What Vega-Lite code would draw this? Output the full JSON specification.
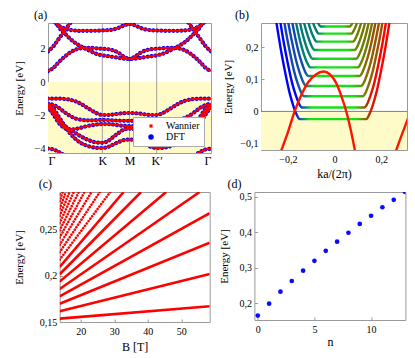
{
  "$schema": "https://vega.github.io/schema/vega-lite/v6.json",
  "padding": {"left": 0, "top": 8, "right": 4, "bottom": 2},
  "config": {
    "view": {"stroke": "#9a9a9a", "strokeWidth": 1},
    "font": "Liberation Serif",
    "axis": {"labelFont": "Liberation Serif", "titleFont": "Liberation Serif", "labelFontSize": 10, "titleFontSize": 11, "titleFontWeight": "normal", "labelColor": "#000000", "titleColor": "#000000", "grid": false, "domain": false, "tickColor": "#999999", "tickSize": -3, "labelPadding": 6, "labelFlush": false, "labelOverlap": false},
    "title": {"font": "Liberation Serif", "fontSize": 12, "fontWeight": "normal", "anchor": "start", "frame": "group", "offset": 1, "color": "#000000"}
  },
  "datasets": {
    "shadeA": [{"e": 0, "e2": -4.26}],
    "shadeB": [{"e": 0, "e2": -0.12}],
    "vlines": [{"k": 1}, {"k": 1.5}, {"k": 2}],
    "empty": [],
    "bands": [
      {"b":"L","k":0,"e":0.66},{"b":"L","k":0.1,"e":0.85},{"b":"L","k":0.2,"e":1.2},{"b":"L","k":0.3,"e":1.5},{"b":"L","k":0.4,"e":1.75},{"b":"L","k":0.5,"e":1.93},{"b":"L","k":0.6,"e":2.02},{"b":"L","k":0.7,"e":2.05},{"b":"L","k":0.8,"e":2.05},{"b":"L","k":0.9,"e":2.02},{"b":"L","k":1,"e":2},{"b":"L","k":1.1,"e":1.97},{"b":"L","k":1.2,"e":1.9},{"b":"L","k":1.3,"e":1.75},{"b":"L","k":1.4,"e":1.52},{"b":"L","k":1.5,"e":1.38},{"b":"L","k":1.6,"e":1.52},{"b":"L","k":1.7,"e":1.75},{"b":"L","k":1.8,"e":1.9},{"b":"L","k":1.9,"e":1.97},{"b":"L","k":2,"e":2},{"b":"L","k":2.1,"e":2.02},{"b":"L","k":2.2,"e":2.05},{"b":"L","k":2.3,"e":2.05},{"b":"L","k":2.4,"e":2.02},{"b":"L","k":2.5,"e":1.93},{"b":"L","k":2.6,"e":1.75},{"b":"L","k":2.7,"e":1.5},{"b":"L","k":2.8,"e":1.2},{"b":"L","k":2.9,"e":0.85},{"b":"L","k":3,"e":0.66},
      {"b":"D","k":0.15,"e":3.6},{"b":"D","k":0.2,"e":3.3},{"b":"D","k":0.3,"e":2.95},{"b":"D","k":0.4,"e":2.62},{"b":"D","k":0.5,"e":2.35},{"b":"D","k":0.6,"e":2.15},{"b":"D","k":0.7,"e":1.98},{"b":"D","k":0.8,"e":1.82},{"b":"D","k":0.9,"e":1.68},{"b":"D","k":1,"e":1.6},{"b":"D","k":1.1,"e":1.55},{"b":"D","k":1.2,"e":1.5},{"b":"D","k":1.3,"e":1.45},{"b":"D","k":1.4,"e":1.4},{"b":"D","k":1.5,"e":1.38},{"b":"D","k":1.6,"e":1.4},{"b":"D","k":1.7,"e":1.45},{"b":"D","k":1.8,"e":1.5},{"b":"D","k":1.9,"e":1.55},{"b":"D","k":2,"e":1.6},{"b":"D","k":2.1,"e":1.68},{"b":"D","k":2.2,"e":1.82},{"b":"D","k":2.3,"e":1.98},{"b":"D","k":2.4,"e":2.15},{"b":"D","k":2.5,"e":2.35},{"b":"D","k":2.6,"e":2.62},{"b":"D","k":2.7,"e":2.95},{"b":"D","k":2.8,"e":3.3},{"b":"D","k":2.85,"e":3.6},
      {"b":"S","k":0,"e":1.84},{"b":"S","k":0.1,"e":2.15},{"b":"S","k":0.2,"e":2.6},{"b":"S","k":0.3,"e":3.05},{"b":"S","k":0.4,"e":3.5},{"b":"S","k":0.45,"e":3.75},
      {"b":"S2","k":2.55,"e":3.75},{"b":"S2","k":2.6,"e":3.5},{"b":"S2","k":2.7,"e":3.05},{"b":"S2","k":2.8,"e":2.6},{"b":"S2","k":2.9,"e":2.15},{"b":"S2","k":3,"e":1.84},
      {"b":"T","k":0.1,"e":3.65},{"b":"T","k":0.2,"e":3.38},{"b":"T","k":0.3,"e":3.22},{"b":"T","k":0.4,"e":3.13},{"b":"T","k":0.5,"e":3.09},{"b":"T","k":0.6,"e":3.07},{"b":"T","k":0.7,"e":3.07},{"b":"T","k":0.8,"e":3.07},{"b":"T","k":0.9,"e":3.08},{"b":"T","k":1,"e":3.09},{"b":"T","k":1.1,"e":3.11},{"b":"T","k":1.2,"e":3.15},{"b":"T","k":1.3,"e":3.25},{"b":"T","k":1.4,"e":3.4},{"b":"T","k":1.5,"e":3.47},{"b":"T","k":1.6,"e":3.4},{"b":"T","k":1.7,"e":3.25},{"b":"T","k":1.8,"e":3.15},{"b":"T","k":1.9,"e":3.11},{"b":"T","k":2,"e":3.09},{"b":"T","k":2.1,"e":3.08},{"b":"T","k":2.2,"e":3.07},{"b":"T","k":2.3,"e":3.07},{"b":"T","k":2.4,"e":3.07},{"b":"T","k":2.5,"e":3.09},{"b":"T","k":2.6,"e":3.13},{"b":"T","k":2.7,"e":3.22},{"b":"T","k":2.8,"e":3.38},{"b":"T","k":2.9,"e":3.65},
      {"b":"V1","k":0,"e":-1},{"b":"V1","k":0.1,"e":-1},{"b":"V1","k":0.2,"e":-1},{"b":"V1","k":0.3,"e":-1.02},{"b":"V1","k":0.4,"e":-1.06},{"b":"V1","k":0.5,"e":-1.15},{"b":"V1","k":0.6,"e":-1.3},{"b":"V1","k":0.7,"e":-1.5},{"b":"V1","k":0.8,"e":-1.7},{"b":"V1","k":0.9,"e":-1.88},{"b":"V1","k":1,"e":-1.98},{"b":"V1","k":1.1,"e":-1.98},{"b":"V1","k":1.2,"e":-1.95},{"b":"V1","k":1.3,"e":-1.9},{"b":"V1","k":1.4,"e":-1.87},{"b":"V1","k":1.5,"e":-1.86},{"b":"V1","k":1.6,"e":-1.87},{"b":"V1","k":1.7,"e":-1.9},{"b":"V1","k":1.8,"e":-1.95},{"b":"V1","k":1.9,"e":-1.98},{"b":"V1","k":2,"e":-1.98},{"b":"V1","k":2.1,"e":-1.88},{"b":"V1","k":2.2,"e":-1.7},{"b":"V1","k":2.3,"e":-1.5},{"b":"V1","k":2.4,"e":-1.3},{"b":"V1","k":2.5,"e":-1.15},{"b":"V1","k":2.6,"e":-1.06},{"b":"V1","k":2.7,"e":-1.02},{"b":"V1","k":2.8,"e":-1},{"b":"V1","k":2.9,"e":-1},{"b":"V1","k":3,"e":-1},
      {"b":"V2","k":0,"e":-1.3},{"b":"V2","k":0.1,"e":-1.38},{"b":"V2","k":0.2,"e":-1.55},{"b":"V2","k":0.3,"e":-1.8},{"b":"V2","k":0.4,"e":-2.02},{"b":"V2","k":0.5,"e":-2.18},{"b":"V2","k":0.6,"e":-2.26},{"b":"V2","k":0.7,"e":-2.3},{"b":"V2","k":0.8,"e":-2.3},{"b":"V2","k":0.9,"e":-2.28},{"b":"V2","k":1,"e":-2.27},{"b":"V2","k":1.1,"e":-2.28},{"b":"V2","k":1.2,"e":-2.3},{"b":"V2","k":1.3,"e":-2.32},{"b":"V2","k":1.4,"e":-2.33},{"b":"V2","k":1.5,"e":-2.33},{"b":"V2","k":1.6,"e":-2.33},{"b":"V2","k":1.7,"e":-2.32},{"b":"V2","k":1.8,"e":-2.3},{"b":"V2","k":1.9,"e":-2.28},{"b":"V2","k":2,"e":-2.27},{"b":"V2","k":2.1,"e":-2.28},{"b":"V2","k":2.2,"e":-2.3},{"b":"V2","k":2.3,"e":-2.3},{"b":"V2","k":2.4,"e":-2.26},{"b":"V2","k":2.5,"e":-2.18},{"b":"V2","k":2.6,"e":-2.02},{"b":"V2","k":2.7,"e":-1.8},{"b":"V2","k":2.8,"e":-1.55},{"b":"V2","k":2.9,"e":-1.38},{"b":"V2","k":3,"e":-1.3},
      {"b":"V3","k":0,"e":-1.35},{"b":"V3","k":0.1,"e":-1.6},{"b":"V3","k":0.2,"e":-2.1},{"b":"V3","k":0.3,"e":-2.6},{"b":"V3","k":0.4,"e":-3.05},{"b":"V3","k":0.5,"e":-3.4},{"b":"V3","k":0.6,"e":-3.65},{"b":"V3","k":0.7,"e":-3.8},{"b":"V3","k":0.8,"e":-3.9},{"b":"V3","k":0.9,"e":-3.95},{"b":"V3","k":1,"e":-3.96},{"b":"V3","k":1.1,"e":-3.9},{"b":"V3","k":1.2,"e":-3.75},{"b":"V3","k":1.3,"e":-3.6},{"b":"V3","k":1.4,"e":-3.48},{"b":"V3","k":1.5,"e":-3.45},{"b":"V3","k":1.6,"e":-3.48},{"b":"V3","k":1.7,"e":-3.6},{"b":"V3","k":1.8,"e":-3.75},{"b":"V3","k":1.9,"e":-3.9},{"b":"V3","k":2,"e":-3.96},{"b":"V3","k":2.1,"e":-3.95},{"b":"V3","k":2.2,"e":-3.9},{"b":"V3","k":2.3,"e":-3.8},{"b":"V3","k":2.4,"e":-3.65},{"b":"V3","k":2.5,"e":-3.4},{"b":"V3","k":2.6,"e":-3.05},{"b":"V3","k":2.7,"e":-2.6},{"b":"V3","k":2.8,"e":-2.1},{"b":"V3","k":2.9,"e":-1.6},{"b":"V3","k":3,"e":-1.35},
      {"b":"V4","k":0,"e":-1.4},{"b":"V4","k":0.1,"e":-1.75},{"b":"V4","k":0.2,"e":-2.25},{"b":"V4","k":0.3,"e":-2.6},{"b":"V4","k":0.4,"e":-2.85},{"b":"V4","k":0.5,"e":-3.05},{"b":"V4","k":0.6,"e":-3.25},{"b":"V4","k":0.7,"e":-3.42},{"b":"V4","k":0.8,"e":-3.55},{"b":"V4","k":0.9,"e":-3.63},{"b":"V4","k":1,"e":-3.65},{"b":"V4","k":1.1,"e":-3.55},{"b":"V4","k":1.2,"e":-3.3},{"b":"V4","k":1.3,"e":-3.05},{"b":"V4","k":1.4,"e":-2.85},{"b":"V4","k":1.5,"e":-2.8},{"b":"V4","k":1.6,"e":-2.85},{"b":"V4","k":1.7,"e":-3.05},{"b":"V4","k":1.8,"e":-3.3},{"b":"V4","k":1.9,"e":-3.55},{"b":"V4","k":2,"e":-3.65},{"b":"V4","k":2.1,"e":-3.63},{"b":"V4","k":2.2,"e":-3.55},{"b":"V4","k":2.3,"e":-3.42},{"b":"V4","k":2.4,"e":-3.25},{"b":"V4","k":2.5,"e":-3.05},{"b":"V4","k":2.6,"e":-2.85},{"b":"V4","k":2.7,"e":-2.6},{"b":"V4","k":2.8,"e":-2.25},{"b":"V4","k":2.9,"e":-1.75},{"b":"V4","k":3,"e":-1.4},
      {"b":"V5","k":0,"e":-1.5},{"b":"V5","k":0.1,"e":-1.95},{"b":"V5","k":0.2,"e":-2.45},{"b":"V5","k":0.3,"e":-2.75},{"b":"V5","k":0.4,"e":-2.85},{"b":"V5","k":0.5,"e":-2.82},{"b":"V5","k":0.6,"e":-2.75},{"b":"V5","k":0.7,"e":-2.66},{"b":"V5","k":0.8,"e":-2.6},{"b":"V5","k":0.9,"e":-2.55},{"b":"V5","k":1,"e":-2.52},{"b":"V5","k":1.1,"e":-2.52},{"b":"V5","k":1.2,"e":-2.55},{"b":"V5","k":1.3,"e":-2.6},{"b":"V5","k":1.4,"e":-2.63},{"b":"V5","k":1.5,"e":-2.65},{"b":"V5","k":1.6,"e":-2.63},{"b":"V5","k":1.7,"e":-2.6},{"b":"V5","k":1.8,"e":-2.55},{"b":"V5","k":1.9,"e":-2.52},{"b":"V5","k":2,"e":-2.52},{"b":"V5","k":2.1,"e":-2.55},{"b":"V5","k":2.2,"e":-2.6},{"b":"V5","k":2.3,"e":-2.66},{"b":"V5","k":2.4,"e":-2.75},{"b":"V5","k":2.5,"e":-2.82},{"b":"V5","k":2.6,"e":-2.85},{"b":"V5","k":2.7,"e":-2.75},{"b":"V5","k":2.8,"e":-2.45},{"b":"V5","k":2.9,"e":-1.95},{"b":"V5","k":3,"e":-1.5},
      {"b":"V6","k":0,"e":-4},{"b":"V6","k":0.1,"e":-4.05},{"b":"V6","k":0.2,"e":-4.2},{"b":"V6","k":0.3,"e":-4.4},
      {"b":"V6b","k":2.7,"e":-4.4},{"b":"V6b","k":2.8,"e":-4.2},{"b":"V6b","k":2.9,"e":-4.05},{"b":"V6b","k":3,"e":-4}
    ],
    "ulev": [
      {"u":0,"k":-0.254,"e":0.3},{"u":0,"k":-0.226,"e":0.176},{"u":0,"k":-0.21,"e":0.116},{"u":0,"k":-0.192,"e":0.056},{"u":0,"k":-0.176,"e":0.016},{"u":0,"k":-0.163,"e":-0.009},{"u":0,"k":-0.155,"e":-0.02},{"u":0,"k":-0.149,"e":-0.024},{"u":0,"k":0.135,"e":-0.024},{"u":0,"k":0.141,"e":-0.02},{"u":0,"k":0.149,"e":-0.009},{"u":0,"k":0.162,"e":0.016},{"u":0,"k":0.178,"e":0.056},{"u":0,"k":0.196,"e":0.116},{"u":0,"k":0.212,"e":0.176},{"u":0,"k":0.24,"e":0.3},
      {"u":1,"k":-0.237,"e":0.3},{"u":1,"k":-0.217,"e":0.212},{"u":1,"k":-0.201,"e":0.152},{"u":1,"k":-0.183,"e":0.092},{"u":1,"k":-0.167,"e":0.052},{"u":1,"k":-0.154,"e":0.027},{"u":1,"k":-0.146,"e":0.016},{"u":1,"k":-0.14,"e":0.012},{"u":1,"k":0.128,"e":0.012},{"u":1,"k":0.134,"e":0.016},{"u":1,"k":0.142,"e":0.027},{"u":1,"k":0.155,"e":0.052},{"u":1,"k":0.171,"e":0.092},{"u":1,"k":0.189,"e":0.152},{"u":1,"k":0.205,"e":0.212},{"u":1,"k":0.225,"e":0.3},
      {"u":2,"k":-0.22,"e":0.3},{"u":2,"k":-0.208,"e":0.247},{"u":2,"k":-0.192,"e":0.187},{"u":2,"k":-0.174,"e":0.127},{"u":2,"k":-0.158,"e":0.087},{"u":2,"k":-0.145,"e":0.062},{"u":2,"k":-0.137,"e":0.051},{"u":2,"k":-0.131,"e":0.047},{"u":2,"k":0.121,"e":0.047},{"u":2,"k":0.127,"e":0.051},{"u":2,"k":0.135,"e":0.062},{"u":2,"k":0.148,"e":0.087},{"u":2,"k":0.164,"e":0.127},{"u":2,"k":0.182,"e":0.187},{"u":2,"k":0.198,"e":0.247},{"u":2,"k":0.21,"e":0.3},
      {"u":3,"k":-0.204,"e":0.3},{"u":3,"k":-0.199,"e":0.279},{"u":3,"k":-0.183,"e":0.219},{"u":3,"k":-0.165,"e":0.159},{"u":3,"k":-0.149,"e":0.119},{"u":3,"k":-0.136,"e":0.094},{"u":3,"k":-0.128,"e":0.083},{"u":3,"k":-0.122,"e":0.079},{"u":3,"k":0.114,"e":0.079},{"u":3,"k":0.12,"e":0.083},{"u":3,"k":0.128,"e":0.094},{"u":3,"k":0.141,"e":0.119},{"u":3,"k":0.157,"e":0.159},{"u":3,"k":0.175,"e":0.219},{"u":3,"k":0.191,"e":0.279},{"u":3,"k":0.196,"e":0.3},
      {"u":4,"k":-0.187,"e":0.3},{"u":4,"k":-0.174,"e":0.25},{"u":4,"k":-0.156,"e":0.19},{"u":4,"k":-0.14,"e":0.15},{"u":4,"k":-0.127,"e":0.125},{"u":4,"k":-0.119,"e":0.114},{"u":4,"k":-0.113,"e":0.11},{"u":4,"k":0.107,"e":0.11},{"u":4,"k":0.113,"e":0.114},{"u":4,"k":0.121,"e":0.125},{"u":4,"k":0.134,"e":0.15},{"u":4,"k":0.15,"e":0.19},{"u":4,"k":0.168,"e":0.25},{"u":4,"k":0.181,"e":0.3},
      {"u":5,"k":-0.171,"e":0.3},{"u":5,"k":-0.165,"e":0.277},{"u":5,"k":-0.147,"e":0.217},{"u":5,"k":-0.131,"e":0.177},{"u":5,"k":-0.118,"e":0.152},{"u":5,"k":-0.11,"e":0.141},{"u":5,"k":-0.104,"e":0.137},{"u":5,"k":0.1,"e":0.137},{"u":5,"k":0.106,"e":0.141},{"u":5,"k":0.114,"e":0.152},{"u":5,"k":0.127,"e":0.177},{"u":5,"k":0.143,"e":0.217},{"u":5,"k":0.161,"e":0.277},{"u":5,"k":0.167,"e":0.3},
      {"u":6,"k":-0.155,"e":0.3},{"u":6,"k":-0.138,"e":0.244},{"u":6,"k":-0.122,"e":0.204},{"u":6,"k":-0.109,"e":0.179},{"u":6,"k":-0.101,"e":0.168},{"u":6,"k":-0.095,"e":0.164},{"u":6,"k":0.093,"e":0.164},{"u":6,"k":0.099,"e":0.168},{"u":6,"k":0.107,"e":0.179},{"u":6,"k":0.12,"e":0.204},{"u":6,"k":0.136,"e":0.244},{"u":6,"k":0.153,"e":0.3},
      {"u":7,"k":-0.138,"e":0.3},{"u":7,"k":-0.129,"e":0.271},{"u":7,"k":-0.113,"e":0.231},{"u":7,"k":-0.1,"e":0.206},{"u":7,"k":-0.092,"e":0.195},{"u":7,"k":-0.086,"e":0.191},{"u":7,"k":0.086,"e":0.191},{"u":7,"k":0.092,"e":0.195},{"u":7,"k":0.1,"e":0.206},{"u":7,"k":0.113,"e":0.231},{"u":7,"k":0.129,"e":0.271},{"u":7,"k":0.138,"e":0.3},
      {"u":8,"k":-0.121,"e":0.3},{"u":8,"k":-0.104,"e":0.257},{"u":8,"k":-0.091,"e":0.232},{"u":8,"k":-0.083,"e":0.221},{"u":8,"k":-0.077,"e":0.217},{"u":8,"k":0.079,"e":0.217},{"u":8,"k":0.085,"e":0.221},{"u":8,"k":0.093,"e":0.232},{"u":8,"k":0.106,"e":0.257},{"u":8,"k":0.123,"e":0.3},
      {"u":9,"k":-0.102,"e":0.3},{"u":9,"k":-0.095,"e":0.282},{"u":9,"k":-0.082,"e":0.257},{"u":9,"k":-0.074,"e":0.246},{"u":9,"k":-0.068,"e":0.242},{"u":9,"k":0.072,"e":0.242},{"u":9,"k":0.078,"e":0.246},{"u":9,"k":0.086,"e":0.257},{"u":9,"k":0.099,"e":0.282},{"u":9,"k":0.106,"e":0.3},
      {"u":10,"k":-0.084,"e":0.3},{"u":10,"k":-0.073,"e":0.279},{"u":10,"k":-0.065,"e":0.268},{"u":10,"k":-0.059,"e":0.264},{"u":10,"k":0.065,"e":0.264},{"u":10,"k":0.071,"e":0.268},{"u":10,"k":0.079,"e":0.279},{"u":10,"k":0.09,"e":0.3}
    ],
    "para": [
      {"p":"P1","k":-0.23,"e":-0.125},{"p":"P1","k":-0.2,"e":-0.065},{"p":"P1","k":-0.171,"e":0},{"p":"P1","k":-0.143,"e":0.05},{"p":"P1","k":-0.114,"e":0.09},{"p":"P1","k":-0.08,"e":0.115},{"p":"P1","k":-0.047,"e":0.124},{"p":"P1","k":-0.02,"e":0.115},{"p":"P1","k":0.007,"e":0.088},{"p":"P1","k":0.028,"e":0.05},{"p":"P1","k":0.05,"e":0},{"p":"P1","k":0.07,"e":-0.06},{"p":"P1","k":0.088,"e":-0.125},
      {"p":"P2","k":0.262,"e":-0.125},{"p":"P2","k":0.28,"e":-0.088},{"p":"P2","k":0.297,"e":-0.055},{"p":"P2","k":0.315,"e":-0.02}
    ],
    "fan": [
      {"n":0,"B":13.7,"E":0.1537},{"n":0,"B":58.5,"E":0.167},
      {"n":1,"B":13.7,"E":0.1617},{"n":1,"B":58.5,"E":0.202},
      {"n":2,"B":13.7,"E":0.1698},{"n":2,"B":58.5,"E":0.236},
      {"n":3,"B":13.7,"E":0.1778},{"n":3,"B":58.5,"E":0.268},
      {"n":4,"B":13.7,"E":0.1858},{"n":4,"B":55.5,"E":0.291},
      {"n":5,"B":13.7,"E":0.1938},{"n":5,"B":45.5,"E":0.291},
      {"n":6,"B":13.7,"E":0.2018},{"n":6,"B":38,"E":0.291},
      {"n":7,"B":13.7,"E":0.2098},{"n":7,"B":32.8,"E":0.291},
      {"n":8,"B":13.7,"E":0.2177},{"n":8,"B":28.8,"E":0.291},
      {"n":9,"B":13.7,"E":0.2257},{"n":9,"B":25.7,"E":0.291},
      {"n":10,"B":13.7,"E":0.2336},{"n":10,"B":23.2,"E":0.291},
      {"n":11,"B":13.7,"E":0.2415},{"n":11,"B":21.1,"E":0.291},
      {"n":12,"B":13.7,"E":0.2494},{"n":12,"B":19.4,"E":0.291},
      {"n":13,"B":13.7,"E":0.2573},{"n":13,"B":17.9,"E":0.291},
      {"n":14,"B":13.7,"E":0.2652},{"n":14,"B":16.65,"E":0.291},
      {"n":15,"B":13.7,"E":0.2731},{"n":15,"B":15.55,"E":0.291},
      {"n":16,"B":13.7,"E":0.281},{"n":16,"B":14.6,"E":0.291},
      {"n":17,"B":13.7,"E":0.2889},{"n":17,"B":13.8,"E":0.291}
    ],
    "pts": [
      {"n":0,"E":0.1655},{"n":1,"E":0.199},{"n":2,"E":0.233},{"n":3,"E":0.263},{"n":4,"E":0.292},{"n":5,"E":0.32},{"n":6,"E":0.348},{"n":7,"E":0.374},{"n":8,"E":0.399},{"n":9,"E":0.424},{"n":10,"E":0.447},{"n":11,"E":0.471},{"n":12,"E":0.492},{"n":13,"E":0.514}
    ]
  },
  "columns": 1,
  "align": "none",
  "spacing": -3,
  "resolve": {"scale": {"color": "independent"}, "legend": {"color": "independent"}},
  "concat": [
    {
      "spacing": 9,
      "resolve": {"scale": {"color": "independent"}, "legend": {"color": "independent"}},
      "hconcat": [
        {"width": 2.7, "height": 1, "view": {"stroke": null}, "data": {"name": "empty"}, "mark": "point"},
        {
          "width": 163, "height": 130,
          "title": {"text": "(a)", "dx": -14},
          "layer": [
            {
              "data": {"name": "shadeA"},
              "mark": {"type": "rect", "color": "#fffbc9"},
              "encoding": {
                "y": {"field": "e", "type": "quantitative", "scale": {"domain": [-4.26, 3.54], "nice": false, "zero": false}, "axis": {"values": [-4, -2, 0, 2], "title": "Energy [eV]", "minExtent": 14, "maxExtent": 14, "titlePadding": 10}},
                "y2": {"field": "e2"}
              }
            },
            {
              "data": {"name": "vlines"},
              "mark": {"type": "rule", "color": "#8c8c8c", "strokeWidth": 0.8},
              "encoding": {
                "x": {"field": "k", "type": "quantitative", "scale": {"domain": [0, 3], "nice": false, "zero": false}, "axis": {"values": [0, 1, 1.5, 2, 3], "labelExpr": "datum.value == 0 || datum.value == 3 ? 'Γ' : datum.value == 1 ? 'K' : datum.value == 1.5 ? 'M' : 'K′'", "ticks": false, "labelFontSize": 12, "labelPadding": 2, "labelFlush": true, "title": null}}
              }
            },
            {
              "data": {"name": "bands"},
              "mark": {"type": "line", "clip": true, "interpolate": "monotone", "strokeDash": [0.01, 4], "strokeCap": "round", "strokeWidth": 4.2},
              "encoding": {
                "x": {"field": "k", "type": "quantitative", "scale": {"domain": [0, 3], "nice": false, "zero": false}, "axis": {"values": [0, 1, 1.5, 2, 3], "labelExpr": "datum.value == 0 || datum.value == 3 ? 'Γ' : datum.value == 1 ? 'K' : datum.value == 1.5 ? 'M' : 'K′'", "ticks": false, "labelFontSize": 12, "labelPadding": 2, "labelFlush": true, "title": null}},
                "y": {"field": "e", "type": "quantitative", "scale": {"domain": [-4.26, 3.54], "nice": false, "zero": false}, "axis": {"values": [-4, -2, 0, 2], "title": "Energy [eV]", "minExtent": 14, "maxExtent": 14, "titlePadding": 10}},
                "detail": {"field": "b", "type": "nominal"},
                "color": {
                  "datum": "DFT", "type": "nominal",
                  "scale": {"domain": ["Wannier", "DFT"], "range": ["#ff0000", "#0000ff"]},
                  "legend": {
                    "title": null, "orient": "bottom-right", "offset": 7, "fillColor": "#ffffff", "strokeColor": "#aaaaaa", "padding": 4,
                    "labelFont": "Liberation Serif", "labelFontSize": 10, "labelOffset": 10, "symbolOffset": 9, "rowPadding": 1,
                    "encode": {"symbols": {"update": {
                      "shape": {"signal": "datum.value === 'DFT' ? 'circle' : 'square'"},
                      "size": {"signal": "datum.value === 'DFT' ? 30 : 10"},
                      "fill": {"signal": "datum.value === 'DFT' ? '#0000ff' : '#ff0000'"},
                      "fillOpacity": {"value": 1},
                      "strokeWidth": {"value": 0}
                    }}}
                  }
                }
              }
            },
            {
              "data": {"name": "bands"},
              "mark": {"type": "line", "clip": true, "interpolate": "monotone", "strokeWidth": 2},
              "encoding": {
                "x": {"field": "k", "type": "quantitative", "scale": {"domain": [0, 3], "nice": false, "zero": false}},
                "y": {"field": "e", "type": "quantitative", "scale": {"domain": [-4.26, 3.54], "nice": false, "zero": false}},
                "detail": {"field": "b", "type": "nominal"},
                "color": {"datum": "Wannier", "type": "nominal"}
              }
            }
          ]
        },
        {
          "width": 146, "height": 127,
          "title": {"text": "(b)", "dx": -26},
          "layer": [
            {
              "data": {"name": "shadeB"},
              "mark": {"type": "rect", "color": "#fffbc9"},
              "encoding": {
                "y": {"field": "e", "type": "quantitative", "scale": {"domain": [-0.12, 0.275], "nice": false, "zero": false}, "axis": {"values": [-0.1, 0, 0.1, 0.2], "labelExpr": "replace(format(datum.value, ''), '.', ',')", "title": "Energy [eV]", "minExtent": 21, "maxExtent": 21, "titlePadding": 7}},
                "y2": {"field": "e2"}
              }
            },
            {
              "data": {"name": "shadeB"},
              "mark": {"type": "rule", "color": "#808080", "strokeWidth": 1},
              "encoding": {
                "y": {"field": "e", "type": "quantitative", "scale": {"domain": [-0.12, 0.275], "nice": false, "zero": false}}
              }
            },
            {
              "data": {"name": "ulev"},
              "transform": [{"filter": "datum.u >= 5"}],
              "mark": {"type": "line", "clip": true, "interpolate": "monotone", "strokeWidth": 2.4,
                "color": {"gradient": "linear", "x1": 0, "x2": 1, "y1": 0, "y2": 0, "stops": [{"offset": 0, "color": "#007878"}, {"offset": 0.15, "color": "#008070"}, {"offset": 0.3, "color": "#18e018"}, {"offset": 0.7, "color": "#18e018"}, {"offset": 0.85, "color": "#6c8000"}, {"offset": 1, "color": "#787400"}]}},
              "encoding": {
                "x": {"field": "k", "type": "quantitative", "scale": {"domain": [-0.315, 0.31], "nice": false, "zero": false}, "axis": {"values": [-0.2, 0, 0.2], "labelExpr": "replace(format(datum.value, ''), '.', ',')", "title": "ka/(2π)", "titleFontSize": 12, "titlePadding": 3.5, "labelPadding": 7.5}},
                "y": {"field": "e", "type": "quantitative", "scale": {"domain": [-0.12, 0.275], "nice": false, "zero": false}},
                "detail": {"field": "u", "type": "nominal"}
              }
            },
            {
              "data": {"name": "ulev"},
              "transform": [{"filter": "datum.u >= 2 && datum.u <= 4"}],
              "mark": {"type": "line", "clip": true, "interpolate": "monotone", "strokeWidth": 2.4,
                "color": {"gradient": "linear", "x1": 0, "x2": 1, "y1": 0, "y2": 0, "stops": [{"offset": 0, "color": "#1040b8"}, {"offset": 0.16, "color": "#1050a8"}, {"offset": 0.3, "color": "#18e018"}, {"offset": 0.7, "color": "#18e018"}, {"offset": 0.84, "color": "#8c6a00"}, {"offset": 1, "color": "#a04800"}]}},
              "encoding": {
                "x": {"field": "k", "type": "quantitative", "scale": {"domain": [-0.315, 0.31], "nice": false, "zero": false}},
                "y": {"field": "e", "type": "quantitative", "scale": {"domain": [-0.12, 0.275], "nice": false, "zero": false}},
                "detail": {"field": "u", "type": "nominal"}
              }
            },
            {
              "data": {"name": "ulev"},
              "transform": [{"filter": "datum.u <= 1"}],
              "mark": {"type": "line", "clip": true, "interpolate": "monotone", "strokeWidth": 2.4,
                "color": {"gradient": "linear", "x1": 0, "x2": 1, "y1": 0, "y2": 0, "stops": [{"offset": 0, "color": "#0000ff"}, {"offset": 0.16, "color": "#0000ff"}, {"offset": 0.3, "color": "#18e018"}, {"offset": 0.7, "color": "#18e018"}, {"offset": 0.82, "color": "#c02800"}, {"offset": 0.9, "color": "#ff0000"}, {"offset": 1, "color": "#ff0000"}]}},
              "encoding": {
                "x": {"field": "k", "type": "quantitative", "scale": {"domain": [-0.315, 0.31], "nice": false, "zero": false}},
                "y": {"field": "e", "type": "quantitative", "scale": {"domain": [-0.12, 0.275], "nice": false, "zero": false}},
                "detail": {"field": "u", "type": "nominal"}
              }
            },
            {
              "data": {"name": "para"},
              "mark": {"type": "line", "clip": true, "interpolate": "monotone", "strokeWidth": 2.4, "color": "#ff1400"},
              "encoding": {
                "x": {"field": "k", "type": "quantitative", "scale": {"domain": [-0.315, 0.31], "nice": false, "zero": false}},
                "y": {"field": "e", "type": "quantitative", "scale": {"domain": [-0.12, 0.275], "nice": false, "zero": false}},
                "detail": {"field": "p", "type": "nominal"}
              }
            }
          ]
        }
      ]
    },
    {
      "spacing": 6.7,
      "hconcat": [
        {"width": 5.3, "height": 1, "view": {"stroke": null}, "data": {"name": "empty"}, "mark": "point"},
        {
          "width": 150, "height": 130,
          "title": {"text": "(c)", "dx": -21},
          "data": {"name": "fan"},
          "layer": [
            {
              "transform": [{"filter": "datum.n <= 7"}],
              "mark": {"type": "line", "clip": true, "color": "#ff0000", "strokeWidth": 2.6},
              "encoding": {
                "x": {"field": "B", "type": "quantitative", "scale": {"domain": [13.7, 58.5], "nice": false, "zero": false}, "axis": {"values": [20, 30, 40, 50], "title": "B [T]", "titleFontSize": 12, "titlePadding": 5, "labelPadding": 7.5}},
                "y": {"field": "E", "type": "quantitative", "scale": {"domain": [0.15, 0.291], "nice": false, "zero": false}, "axis": {"values": [0.15, 0.2, 0.25], "labelExpr": "replace(format(datum.value, ''), '.', ',')", "title": "Energy [eV]", "minExtent": 26, "maxExtent": 26, "titlePadding": 9}},
                "detail": {"field": "n", "type": "nominal"}
              }
            },
            {
              "transform": [{"filter": "datum.n > 7"}],
              "mark": {"type": "line", "clip": true, "color": "#ff0000", "strokeWidth": 2.6, "strokeDash": [0.01, 3], "strokeCap": "round"},
              "encoding": {
                "x": {"field": "B", "type": "quantitative", "scale": {"domain": [13.7, 58.5], "nice": false, "zero": false}},
                "y": {"field": "E", "type": "quantitative", "scale": {"domain": [0.15, 0.291], "nice": false, "zero": false}},
                "detail": {"field": "n", "type": "nominal"}
              }
            }
          ]
        },
        {
          "width": 151, "height": 128,
          "title": {"text": "(d)", "dx": -27},
          "data": {"name": "pts"},
          "mark": {"type": "circle", "clip": true, "color": "#0a0aff", "size": 22, "opacity": 1},
          "encoding": {
            "x": {"field": "n", "type": "quantitative", "scale": {"domain": [-0.3, 13.03], "nice": false, "zero": false}, "axis": {"values": [0, 5, 10], "title": "n", "titleFontSize": 12, "titlePadding": 2, "labelPadding": 7.5}},
            "y": {"field": "E", "type": "quantitative", "scale": {"domain": [0.153, 0.514], "nice": false, "zero": false}, "axis": {"values": [0.2, 0.3, 0.4, 0.5], "labelExpr": "replace(format(datum.value, ''), '.', ',')", "title": "Energy [eV]", "minExtent": 16, "maxExtent": 16, "titlePadding": 9}}
          }
        }
      ]
    }
  ]
}
